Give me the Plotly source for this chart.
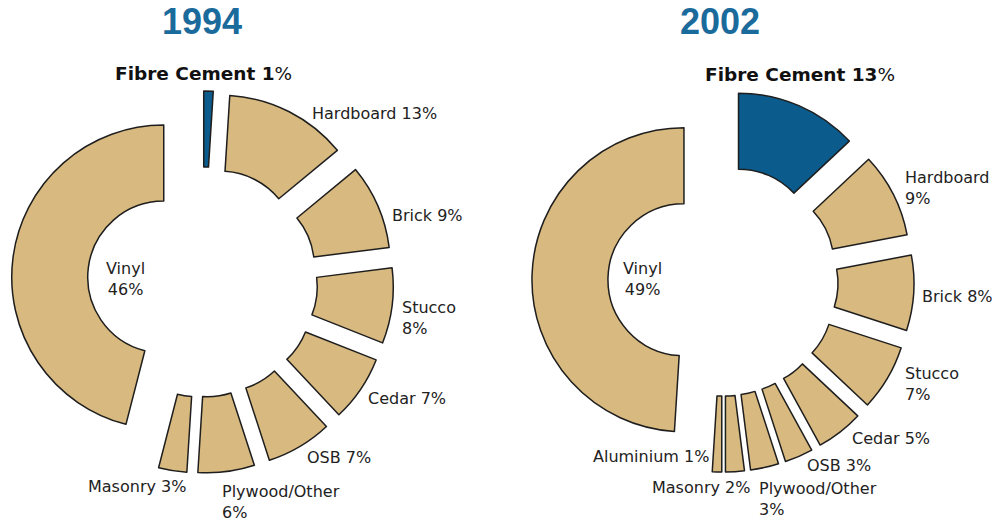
import plotly.graph_objects as go

# Siding market share by material, clockwise from 12 o'clock
materials_1994 = ["Fibre Cement", "Hardboard", "Brick", "Stucco", "Cedar",
                  "OSB", "Plywood/Other", "Masonry", "Vinyl"]
shares_1994 = [1, 13, 9, 8, 7, 7, 6, 3, 46]

materials_2002 = ["Fibre Cement", "Hardboard", "Brick", "Stucco", "Cedar",
                  "OSB", "Plywood/Other", "Masonry", "Aluminium", "Vinyl"]
shares_2002 = [13, 9, 8, 7, 5, 3, 3, 2, 1, 49]

years = ["1994", "2002"]

TAN = "#D8B97F"
BLUE = "#0B5B8C"
TITLE_BLUE = "#1A6A9C"
EDGE = "#1E1E1E"
TEXT = "#222222"

W, H = 1000, 525
PULL = 0.257
HOLE = 0.5


def px(x, y):
    """Pixel position -> paper coordinates."""
    return x / W, 1 - y / H


def domain(cx, cy, r):
    half = r * (1 + PULL)
    return dict(x=[(cx - half) / W, (cx + half) / W],
                y=[1 - (cy + half) / H, 1 - (cy - half) / H])


def colours(names):
    return [BLUE if n == "Fibre Cement" else TAN for n in names]


fig = go.Figure()
for names, vals, dom in [(materials_1994, shares_1994, domain(202.5, 282, 152)),
                         (materials_2002, shares_2002, domain(723, 281, 152))]:
    fig.add_trace(go.Pie(
        labels=names, values=vals, sort=False, direction="clockwise",
        rotation=0, hole=HOLE, pull=[PULL] * len(vals),
        marker=dict(colors=colours(names), line=dict(color=EDGE, width=1.5)),
        textinfo="none", hovertemplate="%{label} %{value}%<extra></extra>",
        domain=dom, showlegend=False,
    ))


def label(names, vals, name, x, y, anchor="left", br=False, bold=False):
    v = vals[names.index(name)]
    if bold:
        text = f"<b>{name} {v}</b>%"
    elif br:
        text = f"{name}<br>{v}%"
    else:
        text = f"{name} {v}%"
    ax, ay = px(x, y)
    return dict(text=text, x=ax, y=ay, xref="paper", yref="paper",
                xanchor=anchor, yanchor="middle", showarrow=False,
                align="center" if anchor == "center" else anchor,
                font=dict(family="DejaVu Sans", size=18.5 if bold else 16,
                          color="#111111" if bold else TEXT))


m1, s1 = materials_1994, shares_1994
m2, s2 = materials_2002, shares_2002
annotations = [
    label(m1, s1, "Fibre Cement", 203, 73, "center", bold=True),
    label(m1, s1, "Hardboard", 310, 113),
    label(m1, s1, "Brick", 390, 215),
    label(m1, s1, "Stucco", 400, 318, br=True),
    label(m1, s1, "Cedar", 366, 398),
    label(m1, s1, "OSB", 305, 457),
    label(m1, s1, "Plywood/Other", 220, 502, br=True),
    label(m1, s1, "Masonry", 188, 486, "right"),
    label(m1, s1, "Vinyl", 125, 279, "center", br=True),
    label(m2, s2, "Fibre Cement", 800, 75, "center", bold=True),
    label(m2, s2, "Hardboard", 903, 188, br=True),
    label(m2, s2, "Brick", 920, 296),
    label(m2, s2, "Stucco", 903, 384, br=True),
    label(m2, s2, "Cedar", 850, 438),
    label(m2, s2, "OSB", 805, 465),
    label(m2, s2, "Plywood/Other", 757, 499, br=True),
    label(m2, s2, "Masonry", 752, 487, "right"),
    label(m2, s2, "Aluminium", 711, 456, "right"),
    label(m2, s2, "Vinyl", 642, 279, "center", br=True),
]

for year, x in zip(years, [202, 720]):
    ax, ay = px(x, 22)
    annotations.append(dict(
        text=f"<b>{year}</b>", x=ax, y=ay, xref="paper", yref="paper",
        xanchor="center", yanchor="middle", showarrow=False,
        font=dict(family="Liberation Sans", size=36, color=TITLE_BLUE)))

fig.update_layout(
    width=W, height=H, margin=dict(l=0, r=0, t=0, b=0),
    paper_bgcolor="white", plot_bgcolor="white",
    annotations=annotations,
)

fig.write_html("out.html")
